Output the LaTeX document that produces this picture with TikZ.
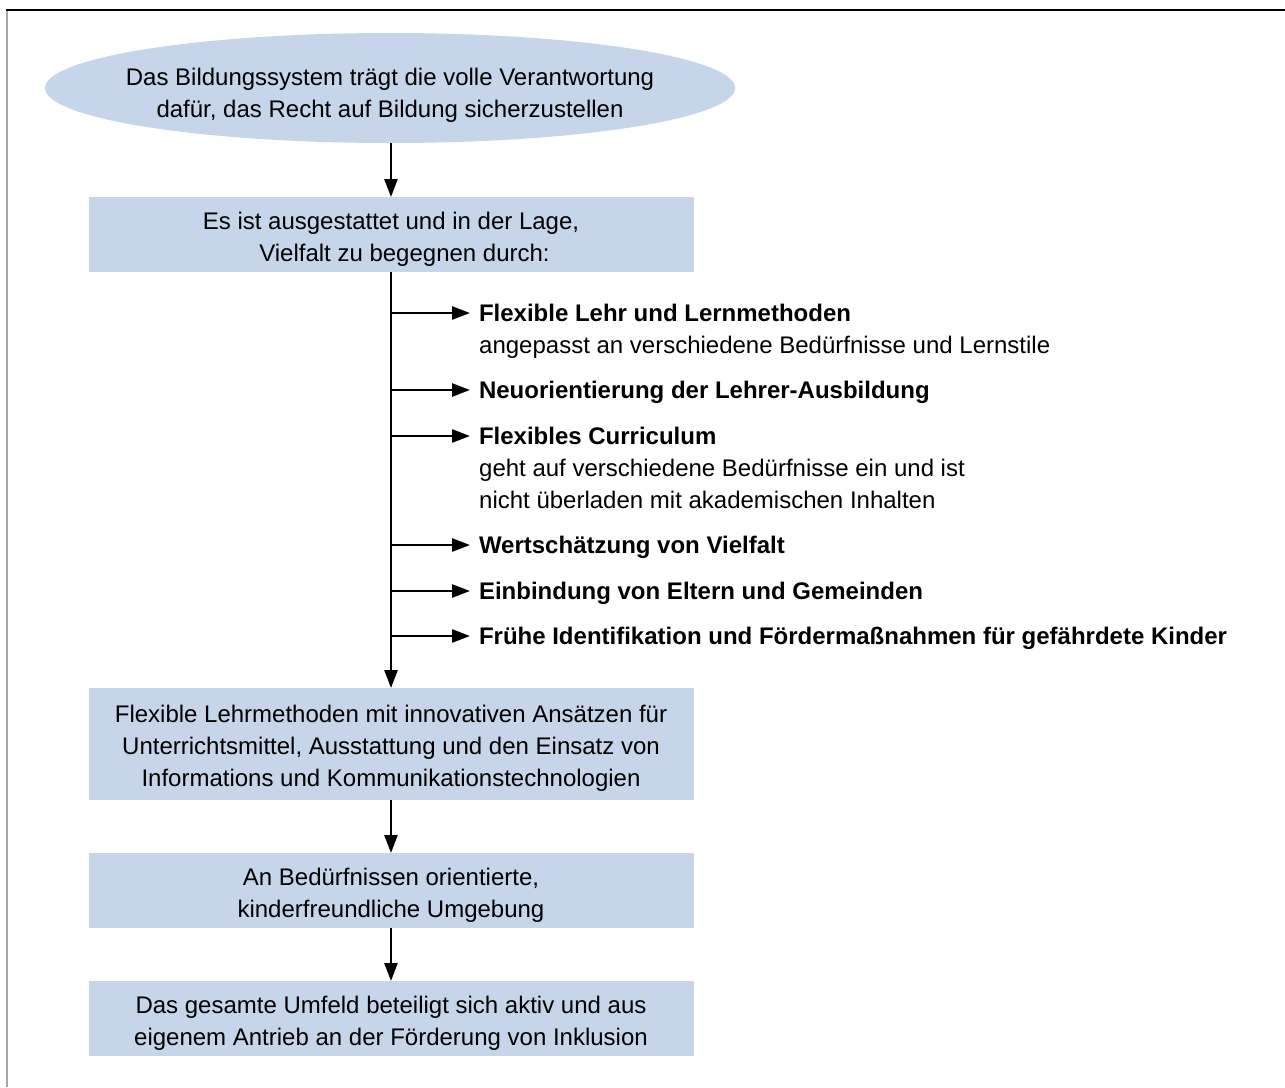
\documentclass[tikz,border=0pt]{standalone}
\usepackage{fontspec}
\setmainfont{Liberation Sans}
\usetikzlibrary{arrows.meta,backgrounds}
\definecolor{boxblue}{RGB}{198,213,234}
\newcommand\toppad{\rule{0pt}{30pt}}
\newcommand\botpad{\rule[-9pt]{0pt}{9pt}}
\begin{document}
\begin{tikzpicture}[x=1pt,y=-1pt,
  txt/.style={font=\fontsize{24}{32}\selectfont},
  flowbox/.style={txt, fill=boxblue, draw=none, minimum width=605pt, minimum height=75pt, align=center, inner sep=0pt, outer sep=0pt},
  arr/.style={-{Triangle[length=18pt,width=13pt]}, line width=2.5pt},
  itemtitle/.style={txt, font=\fontsize{24}{32}\selectfont\bfseries, anchor=west, inner xsep=9pt, inner ysep=0pt, outer sep=0pt, text height=21pt, text depth=4pt},
  itemdesc/.style={txt, anchor=base west, inner sep=0pt}]
\useasboundingbox (0,0) rectangle (1285,1087);
% frame
\draw[gray!70, line width=1.6pt] (7,10) -- (7,1087);
\draw[black, line width=1.4pt] (6.2,10) -- (1285,10);
% main column
\node[txt, align=center, inner sep=0pt, outer sep=0pt] (ell) at (390,91) {\toppad Das Bildungssystem trägt die volle Verantwortung\\dafür, das Recht auf Bildung sicherzustellen\botpad};
\begin{scope}[on background layer]
  \fill[boxblue] ([yshift=3pt]ell.center) ellipse [x radius=345pt, y radius=55pt];
\end{scope}
\coordinate (ellb) at ([yshift=-52pt]ell.center);
\node[flowbox] (b1) at (391,234.5) {\toppad Es ist ausgestattet und in der Lage,\\\hspace*{27pt}Vielfalt zu begegnen durch:\botpad};
\node[flowbox, minimum height=112pt] (b3) at (391,744) {\toppad Flexible Lehrmethoden mit innovativen Ansätzen für\\Unterrichtsmittel, Ausstattung und den Einsatz von\\Informations und Kommunikationstechnologien\botpad};
\node[flowbox] (b4) at (391,890.5) {\toppad An Bedürfnissen orientierte,\\kinderfreundliche Umgebung\botpad};
\node[flowbox] (b5) at (391,1018.5) {\toppad Das gesamte Umfeld beteiligt sich aktiv und aus\\eigenem Antrieb an der Förderung von Inklusion\botpad};
\draw[arr] (ellb -| b1.north) -- (b1.north);
\draw[arr] (b1.south) -- (b3.north);
\draw[arr] (b3.south) -- (b4.north);
\draw[arr] (b4.south) -- (b5.north);
% branch items
\coordinate (j1) at (391,313);
\coordinate (j2) at (391,390);
\coordinate (j3) at (391,436);
\coordinate (j4) at (391,545);
\coordinate (j5) at (391,591);
\coordinate (j6) at (391,636);
\node[itemtitle] (t1) at (470,313) {Flexible Lehr und Lernmethoden};
\node[itemdesc] (d1) at (479,353.6) {angepasst an verschiedene Bedürfnisse und Lernstile};
\node[itemtitle] (t2) at (470,390) {Neuorientierung der Lehrer-Ausbildung};
\node[itemtitle] (t3) at (470,436) {Flexibles Curriculum};
\node[itemdesc] (d3a) at (479,476.6) {geht auf verschiedene Bedürfnisse ein und ist};
\node[itemdesc] (d3b) at (479,508.6) {nicht überladen mit akademischen Inhalten};
\node[itemtitle] (t4) at (470,545) {Wertschätzung von Vielfalt};
\node[itemtitle] (t5) at (470,591) {Einbindung von Eltern und Gemeinden};
\node[itemtitle] (t6) at (470,636) {Frühe Identifikation und Fördermaßnahmen für gefährdete Kinder};
\foreach \i in {1,...,6} {\draw[arr] (j\i) -- (t\i.west);}
\end{tikzpicture}
\end{document}
